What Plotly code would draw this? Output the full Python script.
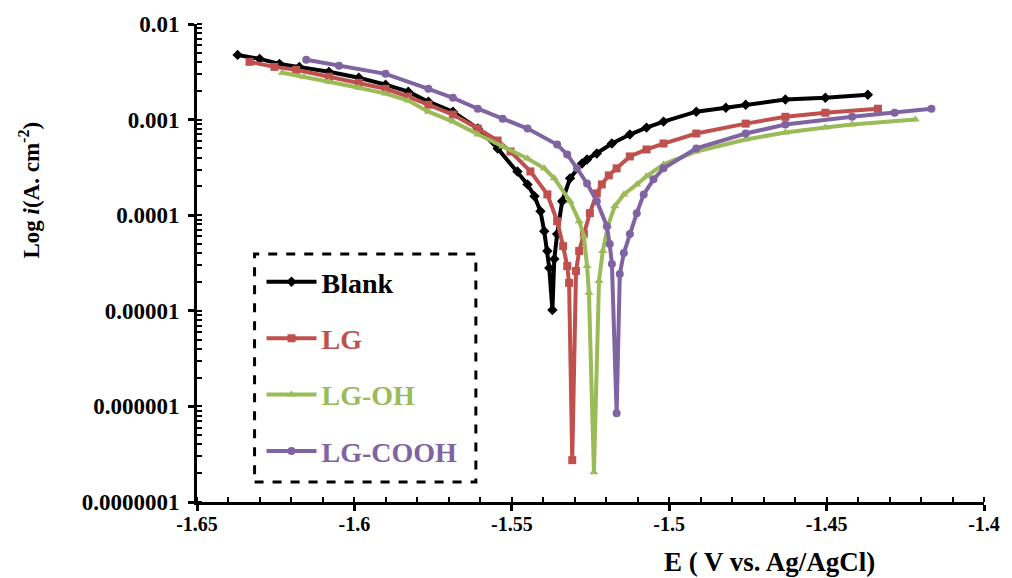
import plotly.graph_objects as go

# ---- data (E in V vs Ag/AgCl, i in A/cm^2) ----
blank_E = [-1.6371, -1.6301, -1.6238, -1.6175, -1.6081, -1.5986, -1.5901, -1.5829, -1.5765, -1.5687,
           -1.5608, -1.5545, -1.5482, -1.5450, -1.5428, -1.5409, -1.5397, -1.5387, -1.5381, -1.5371,
           -1.5365, -1.5356, -1.5340, -1.5315, -1.5277, -1.5261, -1.5230, -1.5182, -1.5125, -1.5072,
           -1.5018, -1.4914, -1.4820, -1.4757, -1.4631, -1.4504, -1.4369]
blank_i = [4.75e-3, 4.32e-3, 3.83e-3, 3.56e-3, 3.16e-3, 2.74e-3, 2.32e-3, 1.96e-3, 1.54e-3, 1.21e-3,
           8.06e-4, 4.99e-4, 2.87e-4, 2.10e-4, 1.58e-4, 1.10e-4, 6.81e-5, 4.22e-5, 2.81e-5, 1.02e-5,
           3.48e-5, 6.34e-5, 1.40e-4, 2.43e-4, 3.48e-4, 3.83e-4, 4.42e-4, 5.62e-4, 6.98e-4, 8.25e-4,
           9.53e-4, 1.21e-3, 1.33e-3, 1.43e-3, 1.62e-3, 1.69e-3, 1.82e-3]

lg_E = [-1.6333, -1.6254, -1.6185, -1.6081, -1.5986, -1.5901, -1.5829, -1.5765, -1.5687, -1.5608,
        -1.5545, -1.5504, -1.5441, -1.5387, -1.5356, -1.5337, -1.5324, -1.5318, -1.5308, -1.5296,
        -1.5286, -1.5271, -1.5252, -1.5230, -1.5214, -1.5192, -1.5167, -1.5125, -1.5072, -1.5018,
        -1.4914, -1.4757, -1.4631, -1.4504, -1.4337]
lg_i = [4.02e-3, 3.56e-3, 3.32e-3, 2.81e-3, 2.43e-3, 2.10e-3, 1.74e-3, 1.43e-3, 1.13e-3, 8.06e-4,
        6.04e-4, 4.64e-4, 2.87e-4, 1.65e-4, 8.66e-5, 4.75e-5, 2.94e-5, 1.96e-5, 2.74e-7, 2.61e-5,
        4.22e-5, 6.34e-5, 1.05e-4, 1.69e-4, 2.10e-4, 2.61e-4, 3.09e-4, 4.12e-4, 4.87e-4, 5.62e-4,
        7.15e-4, 9.08e-4, 1.07e-3, 1.18e-3, 1.30e-3]

lgoh_E = [-1.6229, -1.6160, -1.6081, -1.5986, -1.5901, -1.5829, -1.5765, -1.5687, -1.5608, -1.5529,
          -1.5450, -1.5397, -1.5365, -1.5315, -1.5286, -1.5271, -1.5261, -1.5255, -1.5239, -1.5223,
          -1.5211, -1.5195, -1.5173, -1.5144, -1.5103, -1.5072, -1.5018, -1.4914, -1.4757, -1.4631,
          -1.4504, -1.4419, -1.4218]
lgoh_i = [3.09e-3, 2.81e-3, 2.49e-3, 2.15e-3, 1.87e-3, 1.58e-3, 1.21e-3, 9.53e-4, 6.98e-4, 5.23e-4,
          3.92e-4, 3.09e-4, 2.43e-4, 1.40e-4, 8.66e-5, 6.04e-5, 2.94e-5, 1.54e-5, 2.05e-7, 2.05e-5,
          4.22e-5, 7.68e-5, 1.24e-4, 1.65e-4, 2.10e-4, 2.55e-4, 3.40e-4, 4.64e-4, 6.19e-4, 7.32e-4,
          8.25e-4, 8.87e-4, 1.00e-3]

lgcooh_E = [-1.6153, -1.6049, -1.5901, -1.5765, -1.5687, -1.5608, -1.5529, -1.5450, -1.5356, -1.5324,
            -1.5293, -1.5261, -1.5230, -1.5198, -1.5189, -1.5182, -1.5167, -1.5157, -1.5144, -1.5125,
            -1.5103, -1.5081, -1.5050, -1.5018, -1.4914, -1.4757, -1.4631, -1.4419, -1.4284, -1.4167]
lgcooh_i = [4.22e-3, 3.65e-3, 3.01e-3, 2.10e-3, 1.69e-3, 1.30e-3, 1.02e-3, 8.06e-4, 5.49e-4, 4.32e-4,
            3.09e-4, 2.15e-4, 1.40e-4, 7.68e-5, 4.99e-5, 3.09e-5, 8.46e-7, 2.43e-5, 4.02e-5, 6.34e-5,
            1.05e-4, 1.65e-4, 2.37e-4, 3.09e-4, 4.99e-4, 7.15e-4, 8.87e-4, 1.07e-3, 1.18e-3, 1.30e-3]

series_names = ["Blank", "LG", "LG-OH", "LG-COOH"]
series_colors = ["#000000", "#C0504D", "#9BBB59", "#8064A2"]
series_symbols = ["diamond", "square", "triangle-up", "circle"]

x_tickvals = [-1.65, -1.6, -1.55, -1.5, -1.45, -1.4]
x_ticktext = ["-1.65", "-1.6", "-1.55", "-1.5", "-1.45", "-1.4"]
y_tickvals = [1e-7, 1e-6, 1e-5, 1e-4, 1e-3, 1e-2]
y_ticktext = ["0.0000001", "0.000001", "0.00001", "0.0001", "0.001", "0.01"]

FONT = "Liberation Serif"

fig = go.Figure()
data = [(blank_E, blank_i), (lg_E, lg_i), (lgoh_E, lgoh_i), (lgcooh_E, lgcooh_i)]
for k, (E, I) in enumerate(data):
    c = series_colors[k]
    fig.add_trace(go.Scatter(
        x=E, y=I, mode="lines+markers",
        name="<b><span style='color:%s'>%s</span></b>" % (c, series_names[k]),
        line=dict(color=c, width=4),
        marker=dict(symbol=series_symbols[k], size=8, color=c, line=dict(width=0)),
        legendgroup="g%d" % k,
    ))

fig.update_layout(
    width=1012, height=578,
    margin=dict(l=197, r=22, t=22, b=76),
    paper_bgcolor="white", plot_bgcolor="white",
    font=dict(family=FONT, size=17, color="black"),
    showlegend=True,
    legend=dict(
        x=(262 - 197) / 793, y=(502 - 256) / 480, xanchor="left", yanchor="top",
        bgcolor="rgba(0,0,0,0)", borderwidth=0,
        font=dict(family=FONT, size=28),
        tracegroupgap=17, itemwidth=50,
    ),
    xaxis=dict(
        range=[-1.65, -1.4], tickmode="array", tickvals=x_tickvals,
        ticktext=["<b>%s</b>" % t for t in x_ticktext],
        showline=True, linecolor="black", linewidth=3, showgrid=False, zeroline=False,
        ticks="outside", ticklen=6, tickwidth=2.5, tickcolor="black",
        tickfont=dict(family=FONT, size=20, color="black"),
        ticklabelstandoff=-4,
        minor=dict(dtick=0.01, tick0=-1.65, ticks="inside", ticklen=5, tickwidth=2, tickcolor="black", showgrid=False),
    ),
    yaxis=dict(
        type="log", range=[-7, -2], tickmode="array", tickvals=y_tickvals,
        ticktext=["<b>%s</b>" % t for t in y_ticktext],
        showline=True, linecolor="black", linewidth=3, showgrid=False, zeroline=False,
        ticks="outside", ticklen=6, tickwidth=2.5, tickcolor="black",
        tickfont=dict(family=FONT, size=23, color="black"),
        ticklabelstandoff=4,
        minor=dict(dtick="D1", ticks="inside", ticklen=5, tickwidth=2, tickcolor="black", showgrid=False),
    ),
    shapes=[dict(type="rect", xref="paper", yref="paper",
                 x0=(255 - 197) / 793, x1=(478 - 197) / 793,
                 y0=(502 - 482) / 480, y1=(502 - 253) / 480,
                 line=dict(color="black", width=3, dash="dash"), fillcolor="rgba(0,0,0,0)")],
    annotations=[
        dict(text="<b>E ( V vs. Ag/AgCl)</b>", xref="paper", yref="paper",
             x=(774 - 197) / 793, y=(502 - 562) / 480, xanchor="center", yanchor="middle",
             showarrow=False, font=dict(family=FONT, size=27, color="black")),
        dict(text="<b>Log <i>i</i>(A. cm<sup>-2</sup>)</b>", xref="paper", yref="paper",
             x=(28 - 197) / 793, y=(502 - 189) / 480, xanchor="center", yanchor="middle",
             textangle=-90, showarrow=False, font=dict(family=FONT, size=23, color="black")),
    ],
)

fig.write_html("out.html", config={"displayModeBar": False},
               post_script="document.body.style.margin='0';document.body.style.padding='0';")
